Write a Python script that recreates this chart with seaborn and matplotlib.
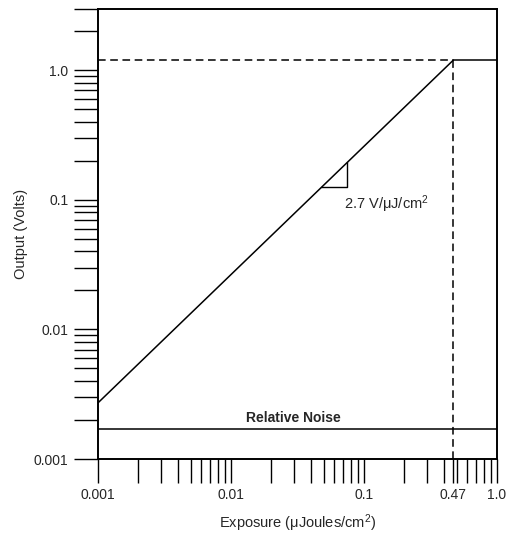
import numpy as np
import matplotlib
matplotlib.use("Agg")
import matplotlib.pyplot as plt
import matplotlib.ticker as mticker
import seaborn as sns

# response curve (log-log, slope 2.7 V per uJ/cm2)
exposure = [0.001, 0.47]
output = [0.0027, 1.2]
# saturated region
sat_exposure = [0.47, 1.0]
sat_output = [1.2, 1.2]
sat_point = (0.47, 1.2)
noise_level = 0.0017
# slope triangle
tri_x = [0.048, 0.075, 0.075]
tri_y = [0.125, 0.125, 0.195]

x_ticks = [0.001, 0.01, 0.1, 0.47, 1.0]
x_labels = ["0.001", "0.01", "0.1", "0.47", "1.0"]
y_ticks = [0.001, 0.01, 0.1, 1.0]
y_labels = ["0.001", "0.01", "0.1", "1.0"]

sns.set_style("ticks")
plt.rcParams["font.family"] = ["Liberation Sans", "DejaVu Sans"]
plt.rcParams["mathtext.fontset"] = "custom"
plt.rcParams["mathtext.rm"] = "Liberation Sans"
plt.rcParams["mathtext.it"] = "Liberation Sans"

fig = plt.figure(figsize=(5.08, 5.35), dpi=100)
ax = fig.add_axes([0.1923, 0.142, 0.786, 0.842])

sns.lineplot(x=exposure, y=output, ax=ax, color="black", linewidth=1.1)
sns.lineplot(x=sat_exposure, y=sat_output, ax=ax, color="black", linewidth=1.1)
ax.plot([x_ticks[0], sat_point[0]], [sat_point[1], sat_point[1]],
        color="black", lw=1.1, ls=(0, (5, 3)))
ax.plot([sat_point[0], sat_point[0]], [y_ticks[0], sat_point[1]],
        color="black", lw=1.1, ls=(0, (5, 3)))
ax.axhline(noise_level, color="black", lw=1.1)
ax.plot(tri_x, tri_y, color="black", lw=1.0)

ax.set_xscale("log")
ax.set_yscale("log")
ax.set_xlim(0.001, 1.0)
ax.set_ylim(0.001, 3.0)

ax.xaxis.set_major_locator(mticker.FixedLocator(x_ticks))
ax.xaxis.set_major_formatter(mticker.FixedFormatter(x_labels))
ax.xaxis.set_minor_locator(mticker.LogLocator(base=10, subs=np.arange(2, 10), numticks=20))
ax.xaxis.set_minor_formatter(mticker.NullFormatter())
ax.yaxis.set_major_locator(mticker.FixedLocator(y_ticks))
ax.yaxis.set_major_formatter(mticker.FixedFormatter(y_labels))
ax.yaxis.set_minor_locator(mticker.LogLocator(base=10, subs=np.arange(2, 10), numticks=20))
ax.yaxis.set_minor_formatter(mticker.NullFormatter())

ax.tick_params(which="both", direction="out", length=17, width=1.0, color="black")
ax.tick_params(which="major", labelsize=10, pad=4)
for s in ax.spines.values():
    s.set_visible(True)
    s.set_linewidth(1.4)
    s.set_color("black")

ax.text(0.0295, noise_level * 1.08, "Relative Noise", ha="center", va="bottom",
        fontsize=10, fontweight="bold")
ax.text(0.071, 0.112, "2.7 V/\u03bcJ/cm$^2$", ha="left", va="top", fontsize=10.5)

ax.set_xlabel("Exposure (\u03bcJoules/cm$^2$)", fontsize=10.5, labelpad=7)
ax.set_ylabel("Output (Volts)", fontsize=10.5, labelpad=4)

fig.savefig("out.png", dpi=100)
